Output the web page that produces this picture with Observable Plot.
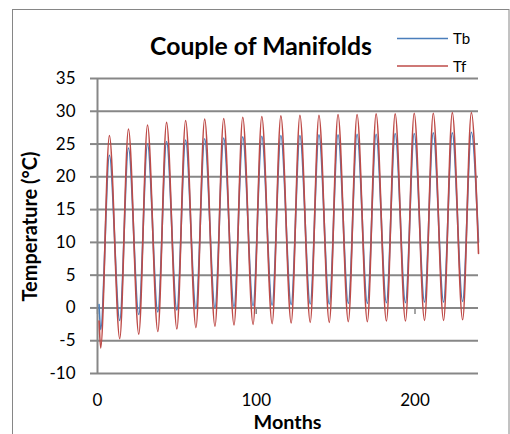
<!DOCTYPE html>
<html>
<head>
<meta charset="utf-8">
<script src="https://cdn.jsdelivr.net/npm/d3@7"></script>
<script src="https://cdn.jsdelivr.net/npm/@observablehq/plot@0.6"></script>
<style>
  html, body { margin: 0; padding: 0; background: #fff; }
  #wrap { position: relative; width: 510px; height: 434px; overflow: hidden; font-family: Lato, "Open Sans", sans-serif; }
  #wrap > svg { position: absolute; left: 0; top: 0; }
</style>
</head>
<body>
<div id="wrap"></div>
<script>
// Months at which each value is reported: the series start, then the
// alternating summer peaks and winter troughs, then the last month.
const months = [1, 2, 7.5, 14, 19.5, 26, 31.5, 38, 43.5, 50, 55.5, 62, 67.5, 74, 79.5, 86,
  91.5, 98, 103.5, 110, 115.5, 122, 127.5, 134, 139.5, 146, 151.5, 158, 163.5, 170,
  175.5, 182, 187.5, 194, 199.5, 206, 211.5, 218, 223.5, 230, 235.5, 240];

// Tb temperature (°C) at those months
const tb = [0.5, -3.3, 23.3, -1.9, 24.4, -1.0, 25.0, -0.6, 25.4, -0.3, 25.6, -0.1, 25.8, 0.1,
  25.9, 0.2, 26.1, 0.3, 26.2, 0.4, 26.3, 0.5, 26.3, 0.6, 26.4, 0.6, 26.4, 0.7, 26.5, 0.7,
  26.5, 0.8, 26.6, 0.8, 26.6, 0.9, 26.7, 0.9, 26.7, 1.0, 26.8, 10.0];

// Tf temperature (°C) at those months
const tf = [-2.0, -6.1, 26.3, -4.7, 27.3, -4.0, 27.9, -3.6, 28.3, -3.2, 28.6, -3.0, 28.8, -2.8,
  28.9, -2.6, 29.1, -2.5, 29.2, -2.4, 29.3, -2.3, 29.4, -2.2, 29.4, -2.2, 29.5, -2.1, 29.5, -2.1,
  29.6, -2.0, 29.6, -2.0, 29.7, -1.9, 29.7, -1.9, 29.8, -1.8, 29.8, 8.3];

const seriesNames = ["Tb", "Tf"];
const seriesColors = ["#4A7EBB", "#BE4B48"];
const yTicks = [-10, -5, 0, 5, 10, 15, 20, 25, 30, 35];
const xTicks = [0, 100, 200];

const tbRows = months.map((m, i) => ({month: m, temp: tb[i]}));
const tfRows = months.map((m, i) => ({month: m, temp: tf[i]}));

const grid = "#878787";
const plain = d => String(d); // hyphen-minus, as in the original spreadsheet chart

const chart = Plot.plot({
  width: 510,
  height: 434,
  marginLeft: 97,
  marginRight: 32,
  marginTop: 78,
  marginBottom: 61,
  x: {domain: [0, 240]},
  y: {domain: [-10, 35]},
  style: {fontFamily: "Lato, 'Open Sans', sans-serif", fontSize: "17px", color: "#000", background: "transparent", overflow: "visible"},
  marks: [
    Plot.ruleY(yTicks, {stroke: grid, strokeWidth: 2}),
    Plot.ruleX([0], {stroke: grid, strokeWidth: 2}),
    Plot.ruleX(xTicks, {y1: 0, y2: -1, stroke: grid, strokeWidth: 1.5}),
    Plot.axisY({ticks: yTicks, tickFormat: plain, tickSize: 7, tickPadding: 15, stroke: grid, strokeWidth: 2, strokeOpacity: 1, label: null, fill: "#000"}),
    Plot.axisX({ticks: xTicks, tickFormat: plain, tickSize: 0, tickPadding: 20, label: null, fill: "#000"}),
    Plot.line(tbRows, {x: "month", y: "temp", stroke: seriesColors[0], strokeWidth: 1.6, curve: "monotone-x"}),
    Plot.line(tfRows, {x: "month", y: "temp", stroke: seriesColors[1], strokeWidth: 1.6, curve: "monotone-x"})
  ]
});

const wrap = document.getElementById("wrap");
wrap.appendChild(chart);

// Chart frame, title, axis titles and legend
const over = d3.select(wrap).append("svg")
  .attr("width", 510).attr("height", 434)
  .style("font-family", "Lato, 'Open Sans', sans-serif");

over.append("rect")
  .attr("x", 12.5).attr("y", 9.5).attr("width", 496.5).attr("height", 500)
  .attr("fill", "none").attr("stroke", "#868686").attr("stroke-width", 1);

// Size a text so that it spans the given width
function fit(sel, width, start) {
  sel.attr("font-size", start);
  const w = sel.node().getComputedTextLength();
  if (w > 0) sel.attr("font-size", (start * width / w).toFixed(2));
  return sel;
}

fit(over.append("text")
  .attr("x", 261).attr("y", 55)
  .attr("text-anchor", "middle")
  .attr("font-weight", "bold")
  .text("Couple of Manifolds"), 222, 22);

fit(over.append("text")
  .attr("transform", "translate(37,226.5) rotate(-90)")
  .attr("text-anchor", "middle")
  .attr("font-weight", "bold")
  .text("Temperature (°C)"), 150, 17);

fit(over.append("text")
  .attr("x", 287.5).attr("y", 429)
  .attr("text-anchor", "middle")
  .attr("font-weight", "bold")
  .text("Months"), 68, 17);

const legend = over.append("g");
seriesNames.forEach((name, i) => {
  const y = i === 0 ? 38.5 : 66;
  legend.append("line")
    .attr("x1", 397).attr("x2", 448).attr("y1", y).attr("y2", y)
    .attr("stroke", seriesColors[i]).attr("stroke-width", 1.5);
  legend.append("text")
    .attr("x", 453).attr("y", y + 5.5)
    .attr("font-size", 15)
    .text(name);
});
</script>
</body>
</html>
